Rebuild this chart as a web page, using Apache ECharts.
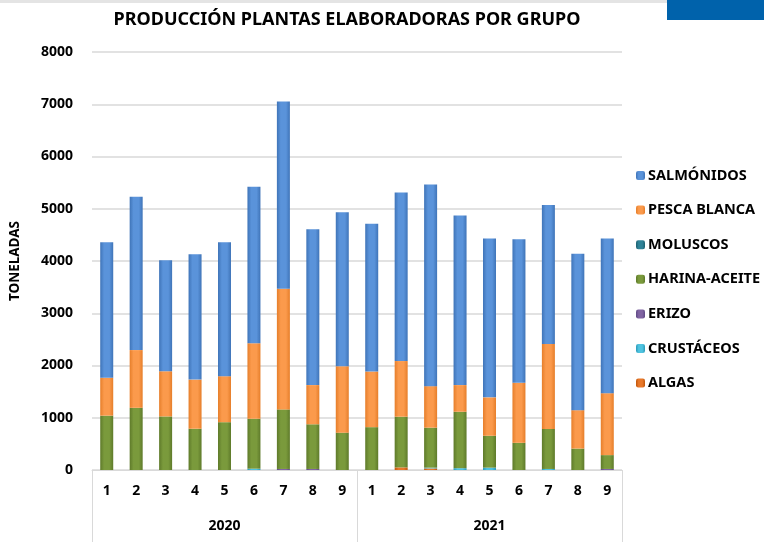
<!DOCTYPE html>
<html>
<head>
<meta charset="utf-8">
<script src="https://cdn.jsdelivr.net/npm/echarts@6/dist/echarts.min.js"></script>
<style>
  html, body { margin: 0; padding: 0; background: #fff; }
  #chart { width: 764px; height: 542px; }
</style>
</head>
<body>
<div id="chart"></div>
<script>
// meses (2020: 1-9, 2021: 1-9)
const months = ['1','2','3','4','5','6','7','8','9','1','2','3','4','5','6','7','8','9']
const years = ['2020', '2021']
const yTicks = [0, 1000, 2000, 3000, 4000, 5000, 6000, 7000, 8000]

// toneladas por grupo
const algas      = [0, 0, 0, 0, 0, 0, 0, 0, 0,   0, 50, 30, 0, 0, 0, 0, 0, 0]
const crustaceos = [0, 0, 0, 0, 0, 25, 0, 0, 0,  0, 0, 15, 35, 45, 0, 20, 0, 0]
const erizo      = [0, 0, 0, 0, 0, 0, 20, 20, 0, 0, 0, 0, 0, 0, 0, 0, 0, 20]
const harina     = [1040, 1190, 1025, 790, 915, 955, 1140, 855, 715,   820, 970, 765, 1080, 610, 520, 765, 410, 265]
const moluscos   = [0, 0, 0, 0, 0, 0, 0, 0, 0,   0, 0, 0, 0, 0, 0, 0, 0, 0]
const pescaBlanca = [725, 1105, 865, 940, 880, 1445, 2310, 750, 1270,   1065, 1065, 795, 510, 735, 1150, 1625, 735, 1185]
const salmonidos = [2595, 2935, 2125, 2400, 2565, 2995, 3585, 2985, 2950,   2830, 3225, 3860, 3245, 3040, 2745, 2660, 2995, 2960]

const legendOrder = ['SALMÓNIDOS', 'PESCA BLANCA', 'MOLUSCOS', 'HARINA-ACEITE', 'ERIZO', 'CRUSTÁCEOS', 'ALGAS']

const FONT = 'Noto Sans'

// relleno tipo Excel: bordes oscuros y centro claro
function fill(edge, mid) {
  return new echarts.graphic.LinearGradient(0, 0, 1, 0, [
    { offset: 0, color: edge },
    { offset: 0.3, color: mid },
    { offset: 0.7, color: mid },
    { offset: 1, color: edge }
  ])
}

function serie(name, data, edge, mid) {
  return {
    name: name,
    type: 'bar',
    stack: 'total',
    data: data,
    barWidth: 13,
    itemStyle: { color: fill(edge, mid) },
    emphasis: { disabled: true }
  }
}

var myChart = echarts.init(document.getElementById('chart'))
myChart.setOption({
  animation: false,
  textStyle: { fontFamily: FONT },
  title: {
    text: 'PRODUCCIÓN PLANTAS ELABORADORAS POR GRUPO',
    left: 342,
    textAlign: 'center',
    top: 6,
    textStyle: { fontFamily: FONT, fontSize: 18, fontWeight: 'bold', color: '#000' }
  },
  graphic: [
    { type: 'rect', shape: { x: 0, y: 0, width: 667, height: 3 }, style: { fill: '#e4e4e4' } },
    { type: 'rect', shape: { x: 667, y: 0, width: 97, height: 20 }, style: { fill: '#0062ab' } }
  ],
  legend: {
    orient: 'vertical',
    left: 631,
    top: 163,
    itemWidth: 9,
    itemHeight: 9,
    itemGap: 19.6,
    data: legendOrder,
    selectedMode: false,
    textStyle: { fontFamily: FONT, fontSize: 14.5, fontWeight: 'bold', color: '#000', padding: [0, 0, 0, -2] }
  },
  grid: { left: 91, right: 142, top: 52, bottom: 72 },
  xAxis: [
    {
      type: 'category',
      data: months,
      axisLine: { lineStyle: { color: '#d9d9d9' } },
      axisTick: { show: false },
      axisLabel: { interval: 0, margin: 14, fontFamily: FONT, fontSize: 14, fontWeight: 'bold', color: '#000' }
    },
    {
      type: 'category',
      data: years,
      position: 'bottom',
      axisLine: { show: false },
      axisTick: { show: true, length: 72, interval: 0, lineStyle: { color: '#d9d9d9' } },
      axisLabel: { margin: 49, fontFamily: FONT, fontSize: 14, fontWeight: 'bold', color: '#000' },
      splitLine: { show: false }
    }
  ],
  yAxis: {
    type: 'value',
    min: yTicks[0],
    max: yTicks[yTicks.length - 1],
    interval: 1000,
    name: 'TONELADAS',
    nameLocation: 'middle',
    nameGap: 70,
    nameTextStyle: { fontFamily: FONT, fontSize: 13.5, fontWeight: 'bold', color: '#000' },
    axisLine: { show: false },
    axisTick: { show: false },
    axisLabel: { margin: 19, fontFamily: FONT, fontSize: 14, fontWeight: 'bold', color: '#000', formatter: function (v) { return String(v) } },
    splitLine: { lineStyle: { color: '#d9d9d9', width: 1.5 } }
  },
  series: [
    serie('ALGAS', algas, '#c0560a', '#e8782a'),
    serie('CRUSTÁCEOS', crustaceos, '#2a9ab8', '#4fc3e0'),
    serie('ERIZO', erizo, '#5f4a85', '#8064a2'),
    serie('HARINA-ACEITE', harina, '#5e7a2a', '#7a9a3c'),
    serie('MOLUSCOS', moluscos, '#1d6070', '#2f8398'),
    serie('PESCA BLANCA', pescaBlanca, '#e67e2a', '#fb9a4c'),
    serie('SALMÓNIDOS', salmonidos, '#3f74b8', '#5a93da')
  ]
})
</script>
</body>
</html>
